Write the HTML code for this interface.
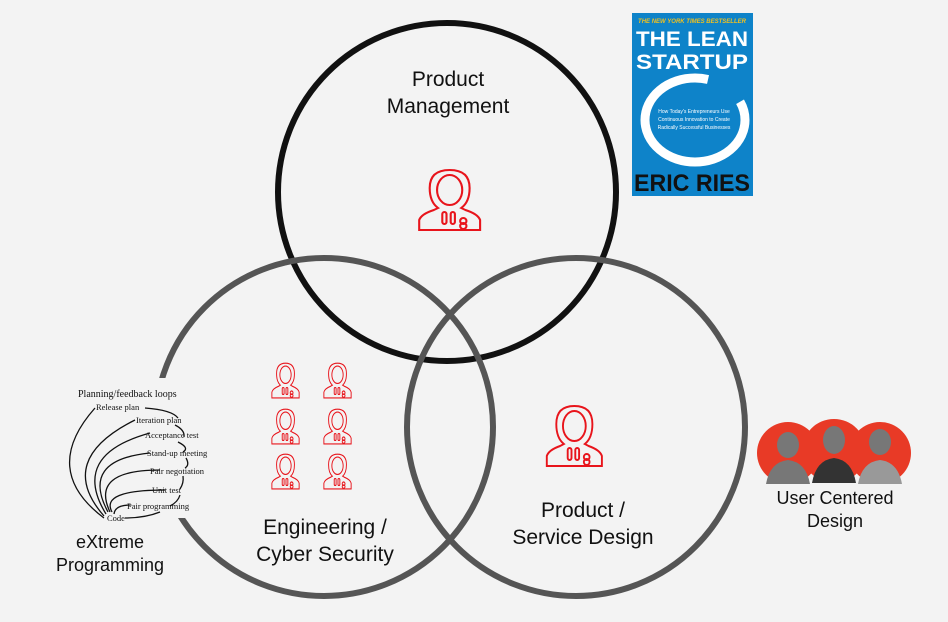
<!DOCTYPE html>
<html><head><meta charset="utf-8"><style>
body{margin:0;width:948px;height:622px;background:#f3f3f3;overflow:hidden;font-family:"Liberation Sans",sans-serif}
.t{position:absolute;text-align:center;color:#111;font-size:21px;line-height:27px}
</style></head><body>
<svg width="948" height="622" style="position:absolute;left:0;top:0">
<defs>
<g id="p" fill="none" stroke="#e8141b" stroke-width="2">
<path d="M4 62 L4 52 Q6 46 18 42 L22 40 Q14 34 14 20 Q14 2 33 2 Q52 2 52 20 Q52 34 44 40 L48 42 Q60 46 62 52 L62 62 Z"/>
<ellipse cx="33" cy="22" rx="12" ry="15"/>
<rect x="26" y="44" width="4" height="12" rx="2"/><rect x="34" y="44" width="4" height="12" rx="2"/>
<circle cx="46" cy="53" r="3"/><circle cx="46" cy="58" r="3"/>
</g>
</defs>
<circle cx="447" cy="192" r="169" fill="none" stroke="#111" stroke-width="6"/>
<circle cx="324" cy="427" r="169" fill="none" stroke="#555" stroke-width="6"/>
<circle cx="576" cy="427" r="169" fill="none" stroke="#555" stroke-width="6"/>
<rect x="40" y="378" width="145" height="140" fill="#f3f3f3"/>
<use href="#p" transform="translate(415,168) scale(1.05,1)"/>
<use href="#p" transform="translate(543,404) scale(0.95,1)"/>
<g>
<use href="#p" transform="translate(270,362) scale(0.47,0.58)"/>
<use href="#p" transform="translate(322,362) scale(0.47,0.58)"/>
<use href="#p" transform="translate(270,408) scale(0.47,0.58)"/>
<use href="#p" transform="translate(322,408) scale(0.47,0.58)"/>
<use href="#p" transform="translate(270,453) scale(0.47,0.58)"/>
<use href="#p" transform="translate(322,453) scale(0.47,0.58)"/>
</g>
<g fill="none" stroke="#111" stroke-width="1.3">
<path d="M104 518 Q40 470 95 408"/>
<path d="M104 516 Q55 460 135 420"/>
<path d="M106 514 Q70 455 150 433"/>
<path d="M108 512 Q80 460 150 453"/>
<path d="M110 512 Q90 470 160 470"/>
<path d="M112 512 Q100 490 165 490"/>
<path d="M114 514 Q115 505 130 505"/>
<path d="M145 408 Q172 410 178 418"/>
<path d="M175 425 Q185 430 184 437"/>
<path d="M178 442 Q190 448 183 452"/>
<path d="M186 458 Q190 465 185 468"/>
<path d="M183 476 Q184 483 180 489"/>
<path d="M180 495 Q178 502 170 506"/>
<path d="M160 512 Q145 518 125 518"/>
</g>
<g font-family="Liberation Serif,serif" font-size="8.5" fill="#111">
<text x="78" y="397" font-size="10">Planning/feedback loops</text>
<text x="96" y="410">Release plan</text>
<text x="136" y="423">Iteration plan</text>
<text x="145" y="438">Acceptance test</text>
<text x="147" y="456">Stand-up meeting</text>
<text x="150" y="474">Pair negotiation</text>
<text x="152" y="493">Unit test</text>
<text x="127" y="509">Pair programming</text>
<text x="107" y="521">Code</text>
</g>
<rect x="632" y="13" width="121" height="183" fill="#0e83c9"/>
<text x="692" y="23" font-size="6" fill="#f0c020" text-anchor="middle" font-style="italic" font-weight="bold">THE NEW YORK TIMES BESTSELLER</text>
<text x="692" y="46" font-size="21" fill="#fff" text-anchor="middle" font-weight="bold" textLength="112" lengthAdjust="spacingAndGlyphs">THE LEAN</text>
<text x="692" y="69" font-size="21" fill="#fff" text-anchor="middle" font-weight="bold" textLength="112" lengthAdjust="spacingAndGlyphs">STARTUP</text>
<ellipse cx="695" cy="120" rx="50" ry="42" fill="none" stroke="#fff" stroke-width="9" stroke-dasharray="230 40"/>
<text x="694" y="113" font-size="5" fill="#fff" text-anchor="middle">How Today's Entrepreneurs Use</text>
<text x="694" y="121" font-size="5" fill="#fff" text-anchor="middle">Continuous Innovation to Create</text>
<text x="694" y="129" font-size="5" fill="#fff" text-anchor="middle">Radically Successful Businesses</text>
<text x="692" y="191" font-size="24" fill="#111" text-anchor="middle" font-weight="bold" textLength="116" lengthAdjust="spacingAndGlyphs">ERIC RIES</text>
<circle cx="788" cy="453" r="31" fill="#e83a26"/>
<circle cx="880" cy="453" r="31" fill="#e83a26"/>
<circle cx="834" cy="451" r="32" fill="#e83a26"/>
<g fill="#777"><ellipse cx="788" cy="445" rx="11" ry="13"/><path d="M766 484 Q770 462 788 460 Q806 462 810 484Z"/>
<ellipse cx="834" cy="440" rx="11" ry="14"/><path d="M812 483 Q816 460 834 458 Q852 460 856 483Z" fill="#333"/>
<ellipse cx="880" cy="442" rx="11" ry="13"/><path d="M858 484 Q862 462 880 460 Q898 462 902 484Z" fill="#999"/></g>
</svg>
<div class="t" style="left:348px;top:66px;width:200px">Product<br>Management</div>
<div class="t" style="left:220px;top:514px;width:210px">Engineering /<br>Cyber Security</div>
<div class="t" style="left:478px;top:497px;width:210px">Product /<br>Service Design</div>
<div class="t" style="left:30px;top:531px;width:160px;font-size:18px;line-height:23px">eXtreme<br>Programming</div>
<div class="t" style="left:750px;top:487px;width:170px;font-size:18px;line-height:23px">User Centered<br>Design</div>
</body></html>
